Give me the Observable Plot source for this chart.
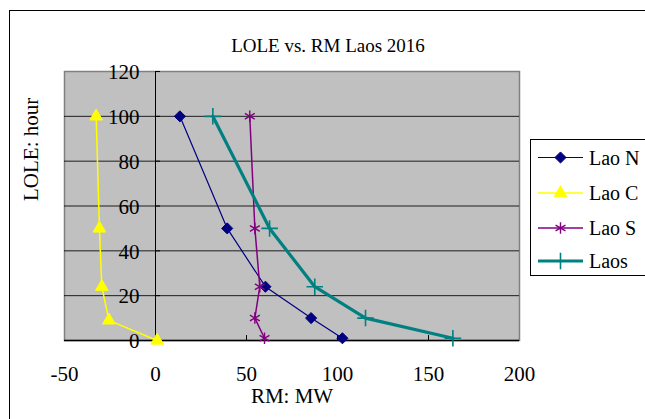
<!DOCTYPE html>
<html>
<head>
<meta charset="utf-8">
<script src="https://cdn.jsdelivr.net/npm/d3@7"></script>
<script src="https://cdn.jsdelivr.net/npm/@observablehq/plot@0.6"></script>
<style>
  body { margin: 0; background: #fff; }
  #wrap { position: relative; width: 645px; height: 419px; overflow: hidden; background: #fff; font-family: "Liberation Serif", "Times New Roman", serif; }
  #outer { position: absolute; left: 9px; top: 10px; width: 700px; height: 500px; border: 1px solid #000; box-sizing: border-box; }
  #chart { position: absolute; left: 0; top: 0; }
  #legend { position: absolute; left: 530px; top: 139px; }
</style>
</head>
<body>
<div id="wrap">
  <div id="outer"></div>
  <div id="chart"></div>
  <svg id="legend" width="116" height="137"></svg>
</div>
<script>
// ---- data ----
const title = "LOLE vs. RM Laos 2016";
const xLabel = "RM: MW";
const yLabel = "LOLE: hour";
const seriesNames = ["Lao N", "Lao C", "Lao S", "Laos"];
const loleLevels = [100, 50, 24, 10, 1];
const loleLaoC = [100, 50, 24, 9, 0];
const rmLaoN = [13.4, 39.4, 60.4, 85.5, 102.7];
const rmLaoC = [-32.6, -30.8, -29.5, -25.6, 0.9];
const rmLaoS = [51.8, 54.6, 57.3, 54.6, 59.9];
const rmLaos = [31.5, 62.7, 87.5, 115.4, 163.4];
const xTicks = [-50, 0, 50, 100, 150, 200];
const yTicks = [0, 20, 40, 60, 80, 100, 120];
const yGrid = [20, 40, 60, 80, 100];

// ---- styles ----
const styles = [
  {name: "Lao N", color: "#000080", symbol: "diamond2", r: 5, fill: "#000080", width: 1.2, sw: 1},
  {name: "Lao C", color: "#FFFF00", symbol: "triangle", r: 4.7, fill: "#FFFF00", width: 1.5, sw: 1},
  {name: "Lao S", color: "#800080", symbol: "asterisk", r: 5.4, fill: "none", width: 1.5, sw: 1.4},
  {name: "Laos", color: "#008080", symbol: "plus", r: 5.4, fill: "none", width: 3.2, sw: 1.6}
];
const xs = [rmLaoN, rmLaoC, rmLaoS, rmLaos];
const ys = [loleLevels, loleLaoC, loleLevels, loleLevels];
const rows = seriesNames.map((name, k) => xs[k].map((x, i) => ({series: name, x, y: ys[k][i]})));

const marks = [
  Plot.frame({fill: "#C0C0C0", stroke: "#808080", strokeWidth: 1.5}),
  Plot.ruleY(yGrid, {y: d => d, stroke: "#000", strokeWidth: 1, strokeOpacity: 0.85}),
  Plot.ruleX([0], {x: d => d, stroke: "#000", strokeWidth: 1}),
  Plot.ruleY([0], {y: d => d, stroke: "#000", strokeWidth: 1.5}),
  Plot.ruleX(xTicks.slice(1, -1), {x: d => d, y1: 0, y2: 2.2, stroke: "#000"}),
  Plot.ruleY(yTicks, {y: d => d, x1: 0, x2: 2.75, stroke: "#000"}),
  Plot.text(yTicks, {x: 0, y: d => d, text: d => String(d), textAnchor: "end", dx: -16, dy: 1, fontSize: 21, fill: "#000"}),
  Plot.text(xTicks, {x: d => d, y: 0, text: d => String(d), dy: 34, fontSize: 21, fill: "#000"}),
  Plot.text([title], {text: d => d, frameAnchor: "top", dx: 36, dy: -33, fontSize: 19, fill: "#000"}),
  Plot.text([xLabel], {text: d => d, frameAnchor: "bottom", dy: 62, fontSize: 21, fill: "#000"}),
  Plot.text([yLabel], {text: d => d, frameAnchor: "left", rotate: -90, dx: -33, dy: -5, fontSize: 21, fill: "#000"})
];
styles.forEach((s, k) => {
  marks.push(Plot.line(rows[k], {x: "x", y: "y", stroke: s.color, strokeWidth: s.width}));
});
styles.forEach((s, k) => {
  marks.push(Plot.dot(rows[k], {x: "x", y: "y", symbol: s.symbol, r: s.r, fill: s.fill, stroke: s.color, strokeWidth: s.sw}));
});

const chart = Plot.plot({
  width: 645,
  height: 419,
  marginLeft: 64,
  marginRight: 126,
  marginTop: 71,
  marginBottom: 79,
  x: {domain: [-50, 200], axis: null},
  y: {domain: [0, 120], axis: null},
  style: {background: "transparent", fontFamily: "'Liberation Serif', 'Times New Roman', serif", overflow: "visible"},
  marks
});
document.getElementById("chart").appendChild(chart);

// ---- legend ----
const leg = d3.select("#legend");
leg.append("rect").attr("x", 0.5).attr("y", 0.5).attr("width", 130).attr("height", 136)
  .attr("fill", "#fff").attr("stroke", "#000");
const rowY = [18.5, 54, 89, 122];
const symMap = {diamond2: d3.symbolDiamond2, triangle: d3.symbolTriangle, asterisk: d3.symbolAsterisk, plus: d3.symbolPlus};
styles.forEach((s, k) => {
  const g = leg.append("g").attr("transform", `translate(0,${rowY[k]})`);
  g.append("line").attr("x1", 8).attr("x2", 53).attr("y1", 0).attr("y2", 0)
    .attr("stroke", s.color).attr("stroke-width", s.width);
  g.append("path").attr("transform", "translate(30.5,0)")
    .attr("d", d3.symbol(symMap[s.symbol], Math.PI * s.r * s.r)())
    .attr("fill", s.fill).attr("stroke", s.color).attr("stroke-width", s.sw);
  g.append("text").attr("x", 59).attr("dy", "0.35em").attr("font-size", 20)
    .attr("font-family", "'Liberation Serif', 'Times New Roman', serif").attr("fill", "#000").text(s.name);
});
</script>
</body>
</html>
